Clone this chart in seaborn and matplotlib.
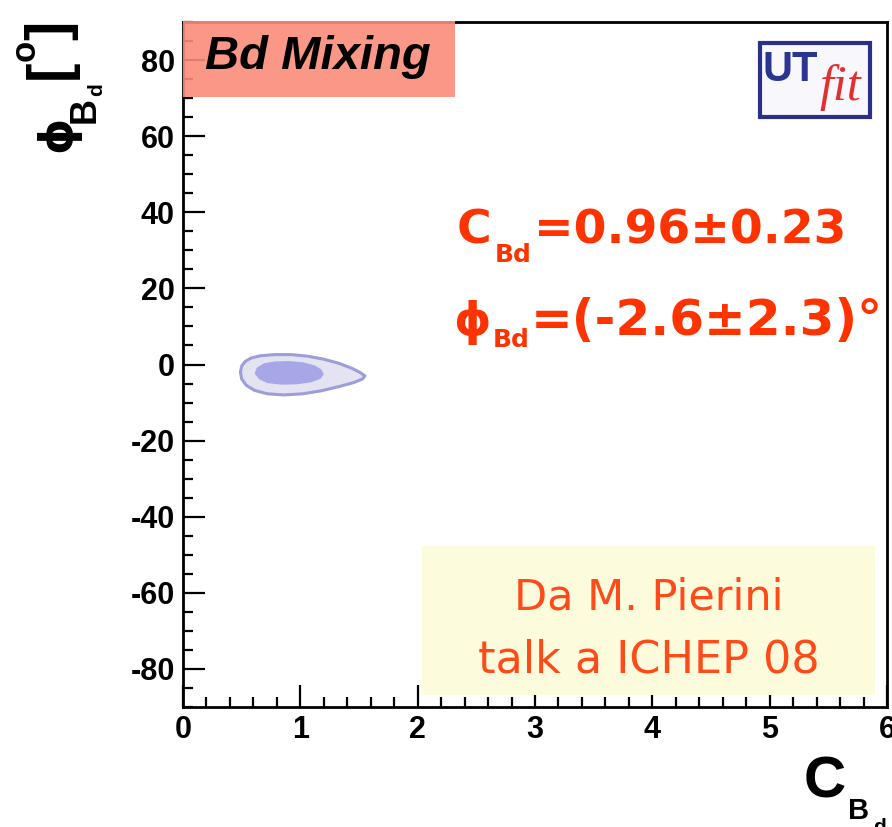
import matplotlib
matplotlib.use("Agg")
import matplotlib.pyplot as plt
import seaborn as sns
import pandas as pd
from matplotlib.patches import Rectangle
from matplotlib.ticker import MultipleLocator

# ---- data ----
x_ticks = [0, 1, 2, 3, 4, 5, 6]
y_ticks = [-80, -60, -40, -20, 0, 20, 40, 60, 80]
# 95% probability region outline (C_Bd, phi_Bd [deg])
outer_c   = [0.49, 0.50, 0.53, 0.58, 0.66, 0.78, 0.92, 1.06, 1.20, 1.33, 1.44, 1.51, 1.55, 1.53, 1.46,
             1.33, 1.18, 1.02, 0.86, 0.72, 0.61, 0.54, 0.50, 0.49]
outer_phi = [-2.0, -0.4, 0.8, 1.7, 2.3, 2.6, 2.6, 2.2, 1.4, 0.3, -1.0, -2.1, -3.0, -3.8, -4.7,
             -5.8, -6.9, -7.7, -8.0, -7.7, -6.8, -5.5, -3.8, -2.0]
# 68% probability region outline
inner_c   = [0.61, 0.63, 0.69, 0.78, 0.90, 1.02, 1.12, 1.18, 1.20, 1.17, 1.09, 0.97, 0.84, 0.72, 0.65, 0.61]
inner_phi = [-2.4, -0.8, 0.3, 0.8, 0.9, 0.6, -0.2, -1.3, -2.6, -3.8, -4.7, -5.2, -5.3, -4.9, -3.9, -2.4]
title_text = "Bd Mixing"
c_result = ["C", "Bd", "=0.96±0.23"]
phi_result = ["ϕ", "Bd", "=(-2.6±2.3)°"]
credit_lines = ["Da M. Pierini", "talk a ICHEP 08"]
xlabel_parts = ["C", "B", "d"]
ylabel_parts = ["ϕ", "B", "d", "[", "o", "]"]

sns.set_style("ticks")
plt.rcParams["font.family"] = ["Liberation Sans", "DejaVu Sans"]

W, H = 892, 827
fig = plt.figure(figsize=(W / 100, H / 100), dpi=100)
ax = fig.add_axes([183 / W, 1 - 707 / H, (887 - 183) / W, (707 - 22) / H])

outer = pd.DataFrame({"C": outer_c, "phi": outer_phi})
inner = pd.DataFrame({"C": inner_c, "phi": inner_phi})
ax.fill(outer["C"], outer["phi"], facecolor="#e3e3f1", edgecolor="none", zorder=2)
sns.lineplot(data=outer, x="C", y="phi", sort=False, estimator=None, color="#9d9dd9", lw=2.2, ax=ax, zorder=3)
ax.fill(inner["C"], inner["phi"], facecolor="#a7a7e8", edgecolor="none", zorder=4)

ax.set_xlim(0, 6)
ax.set_ylim(-90, 90)
ax.set_xticks(x_ticks)
ax.set_yticks(y_ticks)
ax.set_xticklabels([str(v) for v in x_ticks])
ax.set_yticklabels([str(v) for v in y_ticks])
ax.xaxis.set_minor_locator(MultipleLocator(0.2))
ax.yaxis.set_minor_locator(MultipleLocator(5))
ax.tick_params(which="both", direction="in", top=False, right=False, width=1.6, colors="black")
ax.tick_params(which="major", length=15.5, labelsize=22, pad=6)
ax.tick_params(which="minor", length=7.5)
for lab in ax.get_xticklabels() + ax.get_yticklabels():
    lab.set_fontweight("bold")
for s in ax.spines.values():
    s.set_linewidth(2.0)
    s.set_color("black")
ax.set_xlabel("")
ax.set_ylabel("")


def ftext(px, py, s, **kw):
    return fig.text(px / W, 1 - py / H, s, **kw)


# x axis title  C_{B_d}
lab_kw = dict(fontweight="bold", color="black", ha="left", va="baseline")
ftext(804, 797, xlabel_parts[0], fontsize=42, **lab_kw)
ftext(848, 819, xlabel_parts[1], fontsize=21, **lab_kw)
ftext(873, 833, xlabel_parts[2], fontsize=15, **lab_kw)

# y axis title  phi_{B_d} [deg]  (rotated, reading bottom to top)
rot_kw = dict(fontweight="bold", color="black", rotation=90, rotation_mode="anchor",
              ha="left", va="baseline")
ftext(70, 152, ylabel_parts[0], fontsize=33, family=["DejaVu Sans"], **rot_kw)
ftext(95, 123, ylabel_parts[1], fontsize=26, **rot_kw)
ftext(102, 96, ylabel_parts[2], fontsize=15, **rot_kw)
ftext(66, 79, ylabel_parts[3], fontsize=42, **rot_kw)
ftext(35, 61, ylabel_parts[4], fontsize=25, **rot_kw)
fig.text(66 / W, 1 - 21 / H, ylabel_parts[5], fontsize=42, fontweight="bold", color="black",
         rotation=90, rotation_mode="anchor", ha="right", va="baseline")

# title box
fig.patches.append(Rectangle((183 / W, 1 - 97 / H), (455 - 183) / W, (97 - 21) / H,
                             transform=fig.transFigure, facecolor="#fa8c7a", alpha=0.9,
                             edgecolor="none", zorder=5))
ftext(318, 57, title_text, fontsize=34, fontweight="bold", style="italic",
      color="black", ha="center", va="center", zorder=10)

# results (main symbol, lowered subscript, rest)
renderer = fig.canvas.get_renderer()


def result_line(parts, x0, base, sub_drop, size, sub_size, rest_size, gap_sub, gap_rest):
    kw = dict(fontweight="bold", color="#ff3300", family=["DejaVu Sans"], ha="left", va="baseline")
    t1 = ftext(x0, base, parts[0], fontsize=size, **kw)
    x1 = t1.get_window_extent(renderer).x1
    t2 = ftext(x1 + gap_sub, base + sub_drop, parts[1], fontsize=sub_size, **kw)
    x2 = t2.get_window_extent(renderer).x1
    ftext(x2 + gap_rest, base, parts[2], fontsize=rest_size, **kw)


result_line(c_result, 457, 243, 19, 34, 18, 34, 3, 2)
result_line(phi_result, 453, 335, 12, 34, 18, 36, 2, 1)

# credit box
fig.patches.append(Rectangle((422 / W, 1 - 695 / H), (875 - 422) / W, (695 - 546) / H,
                             transform=fig.transFigure, facecolor="#fcfbdc",
                             edgecolor="none", zorder=5))
ftext(649, 597, credit_lines[0], fontsize=31, color="#ff4a1a",
      family=["DejaVu Sans"], ha="center", va="center", zorder=10)
ftext(649, 660, credit_lines[1], fontsize=32, color="#ff4a1a",
      family=["DejaVu Sans"], ha="center", va="center", zorder=10)

# UTfit logo
fig.patches.append(Rectangle((760 / W, 1 - 117 / H), (870 - 760) / W, (117 - 43) / H,
                             transform=fig.transFigure, facecolor="#f8f8fc",
                             edgecolor="#2a2f88", lw=3.0, zorder=5))
ftext(790, 70, "UT", fontsize=30, fontweight="bold", color="#2a3590",
      ha="center", va="center", zorder=10)
ftext(840, 88, "fit", fontsize=36, style="italic", color="#e03030",
      family=["Liberation Serif"], ha="center", va="center", zorder=10)

fig.savefig("out.png", dpi=100)
